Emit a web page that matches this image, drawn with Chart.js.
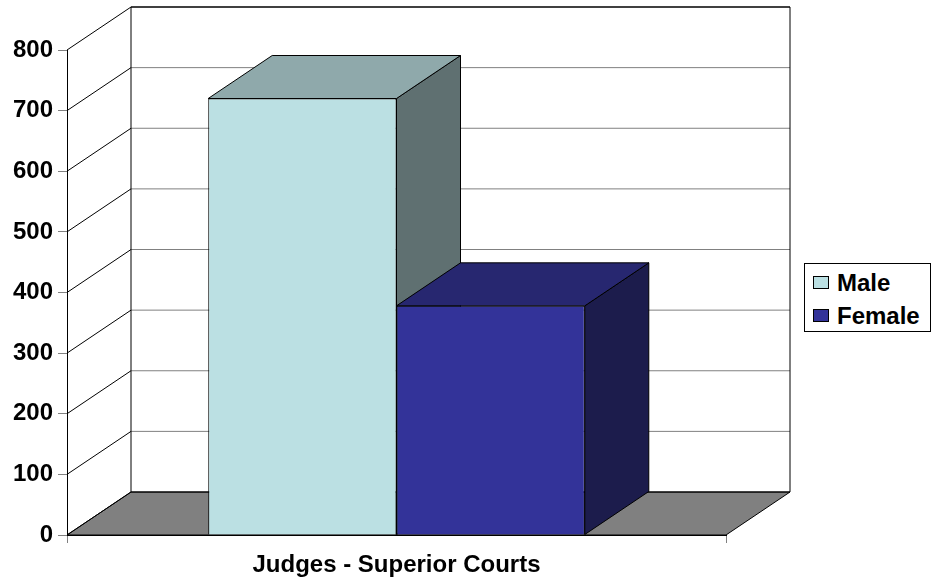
<!DOCTYPE html>
<html>
<head>
<meta charset="utf-8">
<script src="https://cdn.jsdelivr.net/npm/chart.js@4/dist/chart.umd.min.js"></script>
<style>
  html, body { margin: 0; padding: 0; background: #fff; }
  #wrap { position: relative; width: 931px; height: 581px; }
  #c { position: absolute; left: 0; top: 0; }
  #legend { position: absolute; left: 804px; top: 263px; width: 125px; height: 67px;
            border: 1px solid #000; background: #fff; font: bold 24px "Liberation Sans", Arial, sans-serif; }
  .item { position: absolute; left: 8px; height: 28px; line-height: 28px; white-space: nowrap; }
  .sw { display: inline-block; width: 16px; height: 13px; border: 1px solid #000; box-sizing: border-box;
        vertical-align: middle; margin-right: 8px; position: relative; top: -2px; }
</style>
</head>
<body>
<div id="wrap">
  <canvas id="c" width="931" height="581"></canvas>
  <div id="legend"></div>
</div>
<script>
// ---- data ----
const categories = ["Judges - Superior Courts"];
const seriesNames = ["Male", "Female"];
const maleValues = [720];
const femaleValues = [378];
const yTicks = [0, 100, 200, 300, 400, 500, 600, 700, 800];

// ---- styles ----
const frontColors = ["#BBE0E3", "#333399"];
const topColors   = ["#8FA9AB", "#272770"];
const sideColors  = ["#5F7071", "#1C1C4C"];
const DX = 64, DY = -43; // 3D depth offset

const threeD = {
  id: 'threeD',
  beforeDatasetsDraw(chart) {
    const ctx = chart.ctx;
    const ca = chart.chartArea;
    const ys = chart.scales.y;
    const top = ys.getPixelForValue(yTicks[yTicks.length - 1]);
    const bot = ys.getPixelForValue(0);
    ctx.save();
    // floor
    ctx.beginPath();
    ctx.moveTo(ca.left, bot);
    ctx.lineTo(ca.right, bot);
    ctx.lineTo(ca.right + DX, bot + DY);
    ctx.lineTo(ca.left + DX, bot + DY);
    ctx.closePath();
    ctx.fillStyle = '#808080';
    ctx.fill();
    ctx.lineWidth = 1;
    ctx.strokeStyle = '#000';
    ctx.stroke();
    // back wall horizontal gridlines
    yTicks.forEach(v => {
      const y = ys.getPixelForValue(v) + DY;
      ctx.beginPath();
      ctx.moveTo(ca.left + DX, y);
      ctx.lineTo(ca.right + DX, y);
      ctx.strokeStyle = (v === 0 || v === yTicks[yTicks.length - 1]) ? '#000' : '#808080';
      ctx.lineWidth = (v === yTicks[yTicks.length - 1]) ? 1.5 : 1;
      ctx.stroke();
    });
    // left wall diagonals
    ctx.strokeStyle = '#000';
    ctx.lineWidth = 1;
    yTicks.forEach(v => {
      const y = ys.getPixelForValue(v);
      ctx.beginPath();
      ctx.moveTo(ca.left, y);
      ctx.lineTo(ca.left + DX, y + DY);
      ctx.stroke();
    });
    // back verticals
    ctx.beginPath();
    ctx.moveTo(ca.left + DX, top + DY);
    ctx.lineTo(ca.left + DX, bot + DY);
    ctx.moveTo(ca.right + DX, top + DY);
    ctx.lineTo(ca.right + DX, bot + DY);
    ctx.stroke();

    // top and side faces of every bar (front faces drawn afterwards by Chart.js cover them correctly)
    chart.data.datasets.forEach((ds, i) => {
      const meta = chart.getDatasetMeta(i);
      meta.data.forEach(bar => {
        const p = bar.getProps(['x', 'y', 'base', 'width'], true);
        const l = p.x - p.width / 2, r = p.x + p.width / 2;
        ctx.strokeStyle = '#000';
        ctx.lineWidth = 1;
        // side face
        ctx.beginPath();
        ctx.moveTo(r, p.y);
        ctx.lineTo(r + DX, p.y + DY);
        ctx.lineTo(r + DX, p.base + DY);
        ctx.lineTo(r, p.base);
        ctx.closePath();
        ctx.fillStyle = sideColors[i];
        ctx.fill();
        ctx.stroke();
        // top face
        ctx.beginPath();
        ctx.moveTo(l, p.y);
        ctx.lineTo(r, p.y);
        ctx.lineTo(r + DX, p.y + DY);
        ctx.lineTo(l + DX, p.y + DY);
        ctx.closePath();
        ctx.fillStyle = topColors[i];
        ctx.fill();
        ctx.stroke();
      });
    });
    ctx.restore();
  }
};

const FONT = "'Liberation Sans', Arial, sans-serif";

const chart = new Chart(document.getElementById('c'), {
  type: 'bar',
  data: {
    labels: categories,
    datasets: [
      { label: seriesNames[0], data: maleValues, backgroundColor: frontColors[0],
        borderColor: '#000', borderWidth: 1 },
      { label: seriesNames[1], data: femaleValues, backgroundColor: frontColors[1],
        borderColor: '#000', borderWidth: 1 }
    ]
  },
  options: {
    responsive: false,
    animation: false,
    devicePixelRatio: 1,
    layout: { padding: { left: 0, right: 205, top: 50, bottom: 0 } },
    datasets: { bar: { categoryPercentage: 2 / 3.5, barPercentage: 1.0 } },
    plugins: { legend: { display: false }, tooltip: { enabled: false } },
    scales: {
      x: {
        grid: { drawOnChartArea: false, offset: true, tickLength: 8, color: '#808080' },
        border: { display: true, color: '#000', width: 1 },
        ticks: { color: '#000', padding: 8, font: { family: FONT, size: 24, weight: 'bold' } },
        afterFit(s) { s.height = 46; }
      },
      y: {
        min: 0, max: 800,
        afterBuildTicks(s) { s.ticks = yTicks.map(v => ({ value: v })); },
        grid: { drawOnChartArea: false, tickLength: 9, color: '#808080' },
        border: { display: true, color: '#000', width: 1 },
        ticks: { color: '#000', padding: 5, font: { family: FONT, size: 24, weight: 'bold' } },
        afterFit(s) { s.width = 67; }
      }
    }
  },
  plugins: [threeD]
});

// HTML legend built from chart data
const lg = document.getElementById('legend');
chart.data.datasets.forEach((ds, k) => {
  const d = document.createElement('div');
  d.className = 'item';
  d.style.top = (k === 0 ? 5 : 38) + 'px';
  const sw = document.createElement('span');
  sw.className = 'sw';
  sw.style.background = ds.backgroundColor;
  d.appendChild(sw);
  d.appendChild(document.createTextNode(ds.label));
  lg.appendChild(d);
});
</script>
</body>
</html>
